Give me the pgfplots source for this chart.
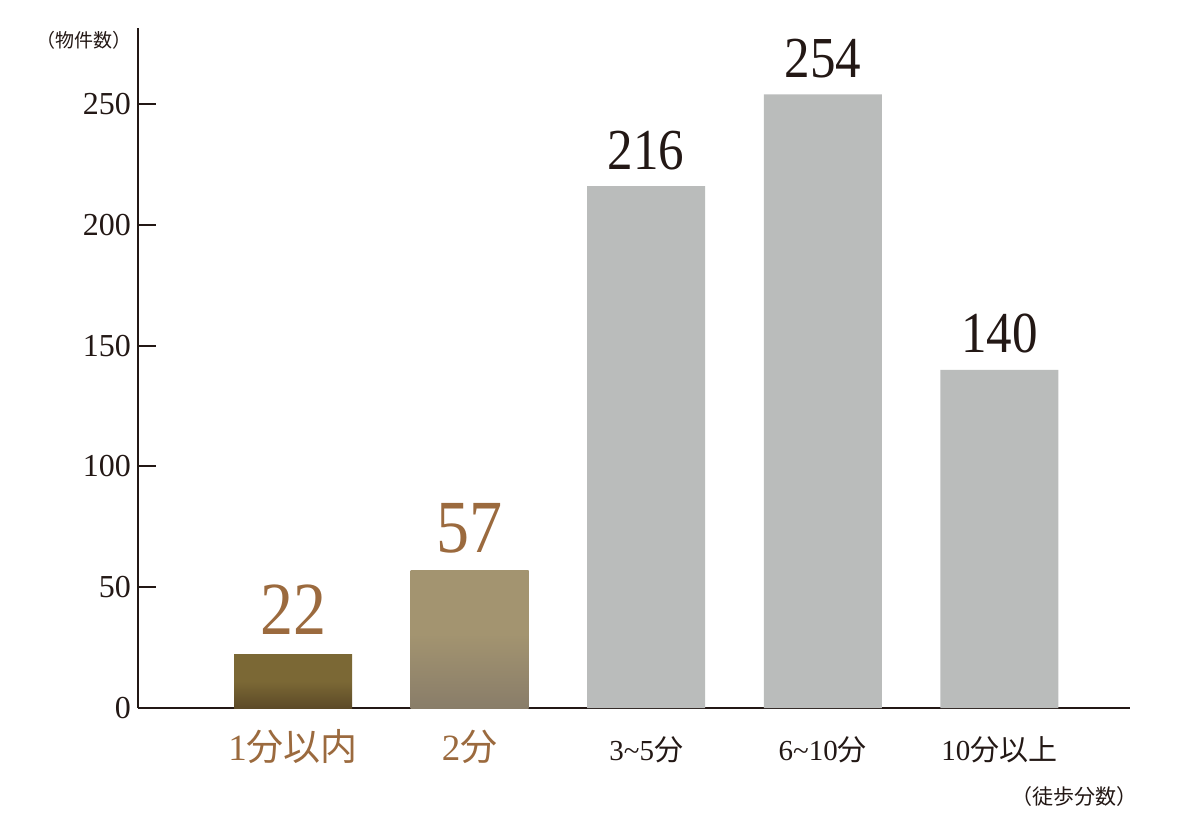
\documentclass[border=0pt]{standalone}
\usepackage{fontspec}
\setmainfont{Liberation Serif}
\newfontfamily\cjk{Noto Sans CJK JP}
\newfontfamily\numfont[FakeStretch=0.88]{Liberation Serif}
\usepackage{pgfplots}
\pgfplotsset{compat=1.18}

\definecolor{ink}{HTML}{231815}
\definecolor{brownlab}{HTML}{9B6A3E}
\definecolor{barA}{HTML}{7B6835}
\definecolor{barAdark}{HTML}{5C4A27}
\definecolor{barB}{HTML}{A39470}
\definecolor{barBdark}{HTML}{897D69}
\definecolor{bargray}{HTML}{BABCBB}

% bottom half darkens, top half flat
\pgfdeclareverticalshading{shadeA}{100bp}{color(0bp)=(barAdark); color(25bp)=(barAdark); color(50bp)=(barA); color(100bp)=(barA)}
\pgfdeclareverticalshading{shadeB}{100bp}{color(0bp)=(barBdark); color(25bp)=(barBdark); color(52bp)=(barB); color(100bp)=(barB)}

\newcommand\brownlab[1]{{\color{brownlab}\fontsize{18.5}{20}\selectfont #1}}
\newcommand\graylab[1]{{\color{ink}\fontsize{14.5}{16}\selectfont #1}}

\begin{document}
\begin{tikzpicture}
\useasboundingbox (-69pt,-54pt) rectangle (531pt,354pt);
\begin{axis}[
  at={(0,0)}, anchor=south west,
  scale only axis, width=496pt, height=340pt,
  xmin=-0.878, xmax=4.74, ymin=0, ymax=281.5,
  axis x line=bottom, axis y line=left,
  axis line style={-, ink, line width=1pt},
  ytick={0,50,...,250},
  tick align=inside,
  major tick length=9pt,
  ytick style={ink, line width=1pt},
  xtick={0,1,2,3,4},
  xtick style={draw=none},
  xticklabels={
    \brownlab{1{\cjk 分以内}},
    \brownlab{2{\cjk 分}},
    \graylab{3\textasciitilde 5{\cjk 分}},
    \graylab{6\textasciitilde 10{\cjk 分}},
    \graylab{10{\cjk 分以上}}},
  xticklabel style={anchor=base, yshift=-17pt},
  yticklabel style={font=\fontsize{16}{16}\selectfont, text=ink},
  /pgf/number format/assume math mode=true,
  ybar, bar width=59pt,
  every node near coord/.append style={anchor=south, inner sep=0pt},
]
\addplot[ybar, bar shift=0pt, draw=none, shade, shading=shadeA,
  nodes near coords,
  every node near coord/.append style={font=\numfont\fontsize{37.5}{38}\selectfont, text=brownlab, yshift=10pt}]
  coordinates {(0,22)};
\addplot[ybar, bar shift=0pt, draw=none, shade, shading=shadeB,
  nodes near coords,
  every node near coord/.append style={font=\numfont\fontsize{37.5}{38}\selectfont, text=brownlab, yshift=8.5pt}]
  coordinates {(1,57)};
\addplot[ybar, bar shift=0pt, draw=none, fill=bargray,
  nodes near coords,
  every node near coord/.append style={font=\numfont\fontsize{29}{30}\selectfont, text=ink, yshift=8pt}]
  coordinates {(2,216) (3,254) (4,140)};
\end{axis}
\node[font=\cjk\fontsize{9.5}{10}\selectfont, text=ink] at (-27pt,334pt) {（物件数）};
\node[font=\cjk\fontsize{10.5}{11}\selectfont, text=ink] at (468pt,-44.5pt) {（徒歩分数）};
\end{tikzpicture}
\end{document}
